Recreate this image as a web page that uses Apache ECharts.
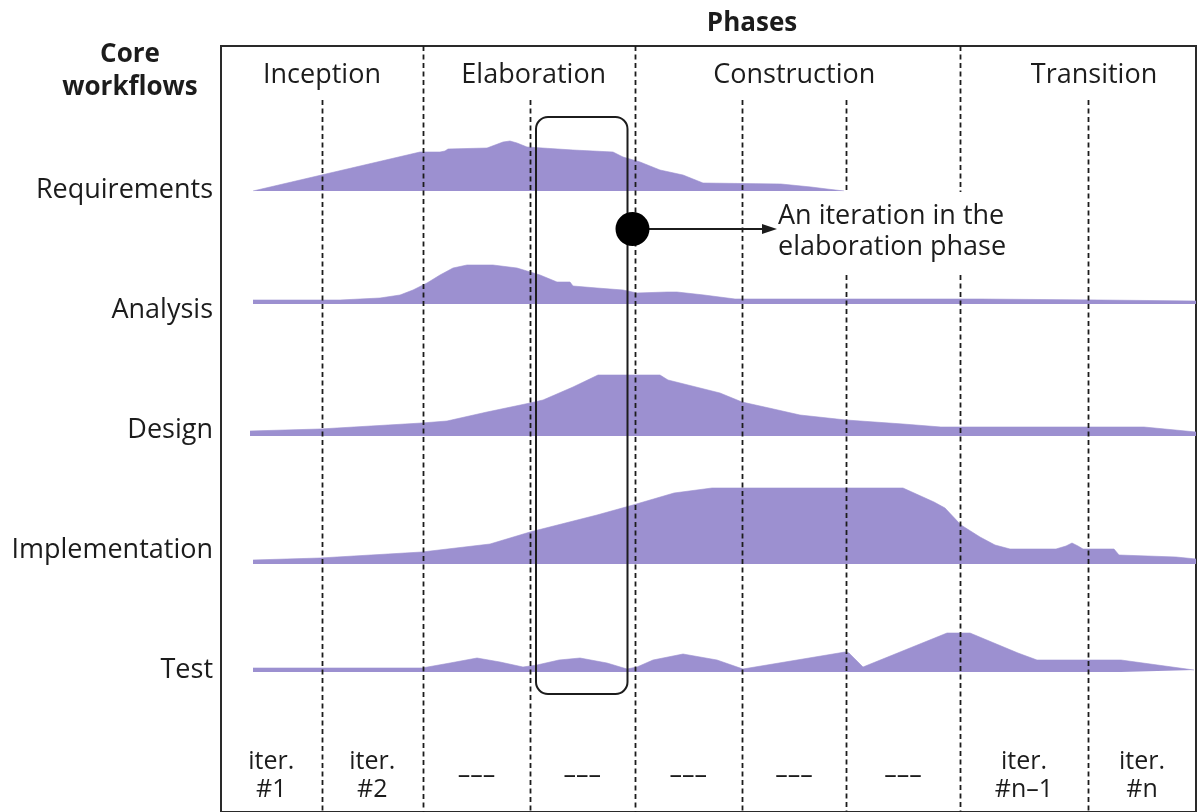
<!DOCTYPE html>
<html>
<head>
<meta charset="utf-8">
<script src="https://cdn.jsdelivr.net/npm/echarts@6/dist/echarts.min.js"></script>
<style>
html,body{margin:0;padding:0;background:#fff;}
#main{width:1197px;height:812px;}
</style>
</head>
<body>
<div id="main"></div>
<script>
// ---------------- data ----------------
const workflows = ['Requirements', 'Analysis', 'Design', 'Implementation', 'Test'];
const phases = ['Inception', 'Elaboration', 'Construction', 'Transition'];
// schedule positions (0 = project start, 975 = right edge of the chart)
const phaseEnds = [202, 413.5, 739, 975];
const iterationEnds = [100.5, 202, 309, 413.5, 521, 625, 739, 867, 975];
const iterationLabels = ['iter.\n#1', 'iter.\n#2', '–––', '–––', '–––', '–––', '–––', 'iter.\n#n–1', 'iter.\n#n'];
const highlightedIteration = 3;
const annotationText = 'An iteration in the\nelaboration phase';

// effort curves: [schedule position, effort]
const requirements = [[32,0],[199,39],[219,39],[224,40],[227,42],[266,43],[274,46],[282,49],[289,50],[296,48],[306,44],[352,41],[392,39],[402,34],[419,29],[429,25],[439,21],[462,16],[472,12],[482,8],[560,7],[590,4],[606,2],[623,0]];
const analysis = [[32,4],[119,4],[159,6],[179,9],[192,14],[206,21],[219,29],[232,36],[246,39],[272,39],[296,36],[319,29],[336,22],[349,22],[352,18],[376,16],[402,14],[416,11],[446,12],[456,12],[483,9],[514,5],[759,5],[879,4],[975,3]];
const design = [[29,5],[99,7],[201,13],[226,15],[266,24],[309,33],[322,36],[352,49],[377,61],[439,61],[447,56],[499,43],[521,34],[548,28],[579,21],[625,16],[682,12],[720,9],[923,9],[975,4]];
const implementation = [[32,4],[99,6],[201,12],[269,20],[309,32],[376,49],[412,59],[453,71],[491,76],[682,76],[713,62],[724,56],[740,39],[759,27],[774,19],[789,15],[835,15],[845,18],[851,21],[857,18],[862,15],[893,15],[898,9],[955,7],[975,5]];
const test = [[32,4],[201,4],[229,9],[256,14],[279,10],[302,5],[316,7],[338,12],[359,14],[386,9],[406,3],[416,5],[432,12],[462,18],[496,12],[522,3],[624,20],[628,19],[634,13],[642,5],[726,39],[749,39],[797,19],[816,12],[900,12],[973,2]];

const effort = [requirements, analysis, design, implementation, test];

// ---------------- layout / style ----------------
const FONT = "'Open Sans', 'Noto Sans', sans-serif";
const INK = '#1c1c1c';
const FILL = '#9c90d0';
const baselines = [191, 304, 436, 564, 672];
const humpH = 80;
const L = {
  left: 221, right: 1, frameTop: 46, iterTop: 100, bottom: 812,
  phaseLabelY: 75, iterLabelY: 776,
  boxTop: 117, boxBottom: 694, boxInsetL: 6, boxInsetR: 7,
  dotY: 229, dotR: 17, textX: 778, textY: 232,
  gapTop: 192, gapBottom: 275, gapLeft: 770, gapRight: 1010
};
const phaseNudge = [0, 5, -3, 16];

const chart = echarts.init(document.getElementById('main'), null, {renderer: 'canvas'});

const grids = [
  {left: L.left, right: L.right, top: L.frameTop, bottom: -40, show: true, borderColor: '#2a2a2a', borderWidth: 2, backgroundColor: 'transparent'},
  {left: L.left, right: L.right, top: 130, height: 600}
];
baselines.forEach(b => grids.push({left: L.left, right: L.right, top: b - humpH, height: humpH}));

const xAxes = grids.map((g, i) => ({type: 'value', gridIndex: i, min: 0, max: 975, show: false}));
const yAxes = [
  {type: 'value', gridIndex: 0, min: 0, max: 1, show: false},
  {type: 'category', gridIndex: 1, data: workflows, inverse: true,
   axisLine: {show: false}, axisTick: {show: false}, splitLine: {show: false},
   axisLabel: {fontSize: 27, fontFamily: FONT, color: INK, margin: 8}}
];
baselines.forEach((b, i) => yAxes.push({type: 'value', gridIndex: i + 2, min: 0, max: humpH, show: false}));

const series = effort.map((d, i) => ({
  name: workflows[i], type: 'line', xAxisIndex: i + 2, yAxisIndex: i + 2,
  data: d, showSymbol: false, symbol: 'none', smooth: false, z: 2,
  lineStyle: {width: 0.6, color: FILL},
  areaStyle: {color: FILL, opacity: 1}
}));

// dashed iteration / phase boundaries
series.push({
  type: 'custom', xAxisIndex: 0, yAxisIndex: 0, z: 6, silent: true,
  data: iterationEnds.slice(0, -1).map(v => [v, phaseEnds.indexOf(v) >= 0 ? 1 : 0]),
  renderItem: (params, api) => {
    const x = Math.round(api.coord([api.value(0), 0])[0]) + 0.5;
    const top = api.value(1) === 1 ? L.frameTop : L.iterTop;
    const style = {stroke: INK, lineWidth: 1.8, lineDash: [5, 3.5], fill: 'none'};
    const segs = (x > L.gapLeft && x < L.gapRight) ? [[top, L.gapTop], [L.gapBottom, L.bottom]] : [[top, L.bottom]];
    return {type: 'group', children: segs.map(s => ({type: 'line', shape: {x1: x, y1: s[0], x2: x, y2: s[1]}, style}))};
  }
});

// phase labels
series.push({
  type: 'custom', xAxisIndex: 0, yAxisIndex: 0, z: 7, silent: true,
  data: phases.map((p, i) => [i ? phaseEnds[i - 1] : 0, phaseEnds[i], i]),
  renderItem: (params, api) => {
    const i = api.value(2);
    const cx = (api.coord([api.value(0), 0])[0] + api.coord([api.value(1), 0])[0]) / 2 + phaseNudge[i];
    return {type: 'text', style: {text: phases[i], x: cx, y: L.phaseLabelY, align: 'center', verticalAlign: 'middle',
      textAlign: 'center', textVerticalAlign: 'middle', fontSize: 27, fontFamily: FONT, fill: INK}};
  }
});

// iteration labels
series.push({
  type: 'custom', xAxisIndex: 0, yAxisIndex: 0, z: 7, silent: true,
  data: iterationLabels.map((t, i) => [i ? iterationEnds[i - 1] : 0, iterationEnds[i], i]),
  renderItem: (params, api) => {
    const i = api.value(2);
    const cx = (api.coord([api.value(0), 0])[0] + api.coord([api.value(1), 0])[0]) / 2;
    return {type: 'text', style: {text: iterationLabels[i], x: cx, y: L.iterLabelY, align: 'center', verticalAlign: 'middle',
      textAlign: 'center', textVerticalAlign: 'middle', fontSize: 25, lineHeight: 28, fontFamily: FONT, fill: INK}};
  }
});

// highlighted iteration box, dot, arrow and annotation
series.push({
  type: 'custom', xAxisIndex: 0, yAxisIndex: 0, z: 8, silent: true,
  data: [[iterationEnds[highlightedIteration - 1], iterationEnds[highlightedIteration]]],
  renderItem: (params, api) => {
    const x0 = api.coord([api.value(0), 0])[0];
    const x1 = api.coord([api.value(1), 0])[0];
    const bx = x0 + L.boxInsetL, bw = (x1 - L.boxInsetR) - bx;
    const dotX = x1 - 2;
    const tipX = L.textX - 1;
    return {type: 'group', children: [
      {type: 'rect', shape: {x: bx, y: L.boxTop, width: bw, height: L.boxBottom - L.boxTop, r: 12},
       style: {fill: 'none', stroke: INK, lineWidth: 2}},
      {type: 'line', shape: {x1: dotX, y1: L.dotY, x2: tipX - 12, y2: L.dotY}, style: {stroke: INK, lineWidth: 2}},
      {type: 'polygon', shape: {points: [[tipX, L.dotY], [tipX - 15, L.dotY - 5], [tipX - 15, L.dotY + 5]]}, style: {fill: INK}},
      {type: 'circle', shape: {cx: dotX, cy: L.dotY, r: L.dotR}, style: {fill: '#000'}},
      {type: 'text', style: {text: annotationText, x: L.textX, y: L.textY, align: 'left', verticalAlign: 'middle',
        textAlign: 'left', textVerticalAlign: 'middle', fontSize: 27, lineHeight: 31, fontFamily: FONT, fill: INK}}
    ]};
  }
});

chart.setOption({
  animation: false,
  backgroundColor: '#fff',
  grid: grids,
  xAxis: xAxes,
  yAxis: yAxes,
  series: series,
  graphic: [
    {type: 'text', x: 752, y: 24, z: 10,
     style: {text: 'Phases', fontSize: 26, fontWeight: 'bold', fontFamily: FONT, fill: INK,
       align: 'center', verticalAlign: 'middle', textAlign: 'center', textVerticalAlign: 'middle'}},
    {type: 'text', x: 130, y: 71, z: 10,
     style: {text: 'Core\nworkflows', fontSize: 26, lineHeight: 33, fontWeight: 'bold', fontFamily: FONT, fill: INK,
       align: 'center', verticalAlign: 'middle', textAlign: 'center', textVerticalAlign: 'middle'}}
  ]
});
</script>
</body>
</html>
